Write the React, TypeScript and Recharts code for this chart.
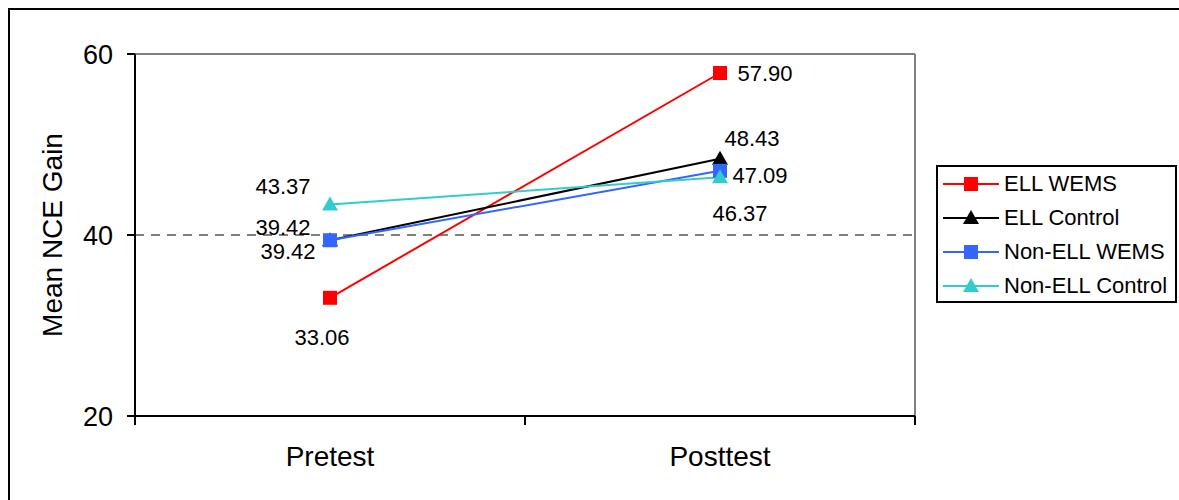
import React from "react";
import {
  LineChart,
  Line,
  XAxis,
  YAxis,
  ReferenceLine,
  Legend,
  LabelList,
} from "recharts";

const categories = ["Pretest", "Posttest"];
const ellWems = [33.06, 57.9];
const ellControl = [39.42, 48.43];
const nonEllWems = [39.42, 47.09];
const nonEllControl = [43.37, 46.37];
const yTicks = [20, 40, 60];

const FONT = "'Liberation Sans', Arial, Helvetica, sans-serif";

type SeriesDef = {
  key: string;
  name: string;
  values: number[];
  color: string;
  shape: "square" | "triangle";
  labelOffsets: [number, number][];
};

const series: SeriesDef[] = [
  { key: "ellWems", name: "ELL WEMS", values: ellWems, color: "#FF0000", shape: "square", labelOffsets: [[-8, 40], [45, 0]] },
  { key: "ellControl", name: "ELL Control", values: ellControl, color: "#000000", shape: "triangle", labelOffsets: [[-47, -13], [32, -20]] },
  { key: "nonEllWems", name: "Non-ELL WEMS", values: nonEllWems, color: "#3366FF", shape: "square", labelOffsets: [[-42, 11], [40, 5]] },
  { key: "nonEllControl", name: "Non-ELL Control", values: nonEllControl, color: "#33CCCC", shape: "triangle", labelOffsets: [[-47, -18], [20, 36]] },
];

const data = categories.map((c, i) => {
  const row: Record<string, any> = { cat: c, x: i + 0.5 };
  series.forEach((s) => {
    row[s.key] = s.values[i];
  });
  return row;
});

const xTicks = [0, 0.5, 1, 1.5, 2];

const Marker = ({ cx, cy, color, shape }: any) => {
  if (cx == null || cy == null) return null;
  if (shape === "square") {
    return <rect x={cx - 7} y={cy - 7} width={14} height={14} fill={color} />;
  }
  return <polygon points={`${cx},${cy - 8} ${cx + 8},${cy + 6} ${cx - 8},${cy + 6}`} fill={color} />;
};

const XTick = (props: any) => {
  const { x, y, payload } = props;
  const v = payload.value;
  if (Number.isInteger(v)) {
    return <line x1={x} y1={y} x2={x} y2={y + 9} stroke="#000" strokeWidth={2} />;
  }
  const idx = Math.floor(v);
  return (
    <text x={x} y={y + 40} textAnchor="middle" dominantBaseline="central" fontFamily={FONT} fontSize={28} fill="#000">
      {categories[idx]}
    </text>
  );
};

const makeLabel = (s: SeriesDef) => (props: any) => {
  const { x, y, value, index } = props;
  const [dx, dy] = s.labelOffsets[index];
  return (
    <text x={x + dx} y={y + dy} textAnchor="middle" dominantBaseline="central" fontFamily={FONT} fontSize={22} fill="#000">
      {Number(value).toFixed(2)}
    </text>
  );
};

const YTitle = (p: any) => {
  const vb = p.viewBox || {};
  const cx = (vb.x || 0) + 42;
  const cy = (vb.y || 0) + (vb.height || 0) / 2;
  return (
    <text
      x={cx}
      y={cy}
      transform={`rotate(-90, ${cx}, ${cy})`}
      textAnchor="middle"
      dominantBaseline="central"
      fontFamily={FONT}
      fontSize={28}
      fill="#000"
    >
      Mean NCE Gain
    </text>
  );
};

const LegendContent = () => (
  <div
    style={{
      border: "2px solid #000",
      background: "#fff",
      width: 241,
      height: 138,
      boxSizing: "border-box",
    }}
  >
    {series.map((s) => (
      <div key={s.key} style={{ display: "flex", alignItems: "center", height: 34 }}>
        <svg width={66} height={30} style={{ display: "block" }}>
          <line x1={5} y1={15} x2={61} y2={15} stroke={s.color} strokeWidth={2} />
          <Marker cx={33} cy={15} color={s.color} shape={s.shape} />
        </svg>
        <span style={{ fontFamily: FONT, fontSize: 22, color: "#000", whiteSpace: "nowrap" }}>{s.name}</span>
      </div>
    ))}
  </div>
);

export default function App() {
  return (
    <>
      <style>{`html,body{overflow:hidden;margin:0;padding:0;background:#fff;}`}</style>
      <div
        style={{
          position: "fixed",
          left: 8,
          top: 8,
          width: 1171,
          height: 492,
          boxSizing: "border-box",
          borderTop: "2px solid #000",
          borderLeft: "2px solid #000",
          overflow: "hidden",
          background: "#fff",
        }}
      >
        <LineChart width={1169} height={490} data={data} margin={{ top: 44, right: 264, bottom: 34, left: 0 }}>
          <XAxis dataKey="x" type="number" domain={[0, 2]} ticks={xTicks} interval={0} tick={<XTick />} tickLine={false} tickSize={0} tickMargin={0} axisLine={{ stroke: "#000", strokeWidth: 2 }} height={50} />
          <YAxis
            type="number"
            domain={[20, 60]}
            ticks={yTicks}
            interval={0}
            width={125}
            tickSize={8}
            tickMargin={14}
            tickLine={{ stroke: "#000", strokeWidth: 2 }}
            axisLine={{ stroke: "#000", strokeWidth: 2 }}
            tick={{ fontFamily: FONT, fontSize: 27, fill: "#000" }}
            label={{ content: YTitle }}
          />
          <ReferenceLine y={60} stroke="#808080" strokeWidth={2} />
          <ReferenceLine x={2} stroke="#808080" strokeWidth={2} />
          <ReferenceLine y={40} stroke="#555" strokeWidth={1.3} strokeDasharray="9 7" />
          {series.map((s) => (
            <Line
              key={s.key}
              dataKey={s.key}
              name={s.name}
              stroke={s.color}
              strokeWidth={2}
              isAnimationActive={false}
              dot={(p: any) => <Marker key={`${s.key}-${p.index}`} cx={p.cx} cy={p.cy} color={s.color} shape={s.shape} />}
              activeDot={false}
            >
              <LabelList dataKey={s.key} content={makeLabel(s)} />
            </Line>
          ))}
          <Legend
            layout="vertical"
            align="center"
            verticalAlign="middle"
            content={<LegendContent />}
            wrapperStyle={{ left: 926, top: 155, width: 243, height: 140, right: "auto", bottom: "auto" }}
          />
        </LineChart>
      </div>
    </>
  );
}
